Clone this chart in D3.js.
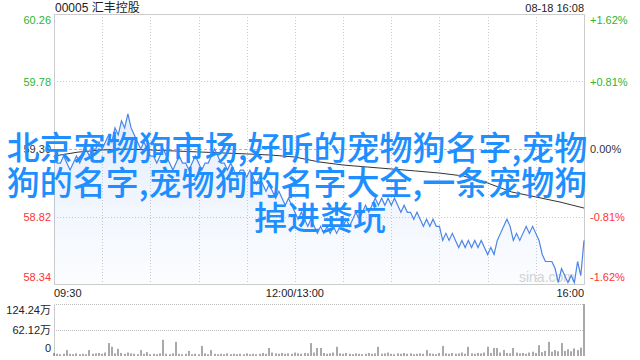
<!DOCTYPE html>
<html>
<head>
<meta charset="utf-8">
<script src="https://cdn.jsdelivr.net/npm/d3@7"></script>
<style>
  body { margin: 0; background: #fff; }
  svg text { font-family: "Liberation Sans", "Noto Sans CJK SC", sans-serif; }
</style>
</head>
<body>
<svg id="chart" width="640" height="360"></svg>
<script>
// tick labels
var priceTicks = [60.26, 59.78, 59.30, 58.82, 58.34];
var pctTicks = ["+1.62%", "+0.81%", "0.00%", "-0.81%", "-1.62%"];
var timeTicks = [0, 150, 330];
var timeLabels = ["09:30", "12:00/13:00", "16:00"];
var volTicks = [124.24, 62.12, 0];
var volLabels = ["124.24万", "62.12万", "0"];
var prevClose = 59.30;

// price every 2 minutes of trading (166 points, 09:30 .. 16:00)
var price = [
  59.25,59.20,59.20,59.25,59.20,59.15,59.20,59.25,59.20,59.25,
  59.30,59.25,59.30,59.30,59.35,59.30,59.35,59.40,59.35,59.45,
  59.40,59.50,59.45,59.55,59.45,59.40,59.35,59.30,59.35,59.30,
  59.25,59.25,59.20,59.25,59.30,59.25,59.20,59.15,59.20,59.25,
  59.20,59.20,59.15,59.20,59.25,59.20,59.15,59.20,59.20,59.25,
  59.30,59.25,59.20,59.20,59.15,59.20,59.15,59.10,59.15,59.15,
  59.10,59.15,59.10,59.05,59.10,59.05,59.00,59.05,59.00,58.95,
  59.00,58.95,58.90,58.95,58.90,58.85,58.80,58.85,58.80,58.75,
  58.80,58.75,58.70,58.75,58.70,58.75,58.70,58.75,58.70,58.75,
  58.75,58.80,58.75,58.80,58.85,58.80,58.85,58.90,58.85,58.90,
  58.95,58.90,58.95,58.90,58.95,58.90,58.95,58.90,58.85,58.90,
  58.85,58.85,58.80,58.85,58.80,58.75,58.80,58.75,58.80,58.75,
  58.75,58.65,58.70,58.65,58.70,58.65,58.60,58.65,58.60,58.65,
  58.60,58.65,58.60,58.65,58.60,58.55,58.60,58.55,58.65,58.70,
  58.75,58.80,58.75,58.65,58.70,58.65,58.70,58.75,58.70,58.75,
  58.70,58.65,58.55,58.50,58.50,58.50,58.45,58.35,58.45,58.40,
  58.35,58.40,58.35,58.50,58.40,58.65
];

// average price every 15 minutes
var avgMinutes = [0,15,30,45,60,75,90,105,120,135,150,165,180,195,210,225,240,255,270,285,300,315,330];
var avgPrice = [59.25,59.278,59.293,59.30,59.293,59.286,59.279,59.272,59.265,59.257,59.243,
  59.208,59.186,59.172,59.158,59.144,59.129,59.108,59.058,58.994,58.959,58.923,58.88];

// volume every 2 minutes, in 万 shares
var volume = [
  5,3,2,3,12,3,2,4,2,3,2,12,3,4,5,3,6,29,20,4,
  15,5,3,6,4,3,2,12,3,7,2,3,2,4,37,3,2,4,32,3,
  2,3,10,2,3,2,22,4,2,12,3,2,3,2,4,2,3,2,3,2,
  4,2,3,2,3,5,3,17,6,4,3,5,3,4,3,6,4,3,5,4,
  29,6,17,17,5,3,4,6,20,4,3,5,3,2,4,3,2,3,5,3,
  4,20,3,4,6,3,2,4,3,5,3,4,2,3,4,3,12,4,3,2,
  5,22,4,3,5,3,4,6,3,20,4,3,5,4,6,20,5,17,17,6,
  12,5,4,17,6,4,5,3,6,8,5,24,7,10,32,8,12,9,29,10,
  14,9,16,12,18,124.24
];

var svg = d3.select("#chart");
var plotL = 54, plotR = 584, plotT = 14, plotB = 284;
var volT = 304, volB = 355;

var x = d3.scaleLinear().domain([0, 330]).range([plotL, plotR]);
var y = d3.scaleLinear().domain([58.34, 60.26]).range([plotB, plotT]);
var yv = d3.scaleLinear().domain([0, 124.24]).range([volB, volT]);

function colorFor(v) {
  if (Math.abs(v - prevClose) < 1e-6) return "#333";
  return v > prevClose ? "#2fb52f" : "#f33";
}

// grid
svg.selectAll(".vgrid")
  .data(d3.range(30, 330, 30))
  .enter().append("line")
  .attr("x1", d => Math.round(x(d)) + 0.5).attr("x2", d => Math.round(x(d)) + 0.5)
  .attr("y1", plotT).attr("y2", plotB)
  .attr("stroke", "#ccc").attr("stroke-dasharray", "1,2");

svg.selectAll(".hgrid")
  .data([priceTicks[1], priceTicks[3]])
  .enter().append("line")
  .attr("x1", plotL).attr("x2", plotR)
  .attr("y1", d => Math.round(y(d)) + 0.5).attr("y2", d => Math.round(y(d)) + 0.5)
  .attr("stroke", "#ccc").attr("stroke-dasharray", "1,2");

// frame
svg.append("path")
  .attr("d", "M" + (plotL + 0.5) + "," + (plotT + 0.5) + "V" + (plotB + 0.5) + "H" + (plotR + 0.5) + "V" + (plotT + 0.5) + "Z")
  .attr("fill", "none").attr("stroke", "#ccc");

// watermark
svg.append("text").attr("x", 575).attr("y", 282).attr("text-anchor", "end")
  .attr("font-size", 14).attr("fill", "#d4d4d4").text("sina.com");

// fill under price
var grad = svg.append("defs").append("linearGradient")
  .attr("id", "pfill").attr("x1", 0).attr("y1", 0).attr("x2", 0).attr("y2", 1);
grad.append("stop").attr("offset", "0%").attr("stop-color", "#4a86e8").attr("stop-opacity", 0.14);
grad.append("stop").attr("offset", "100%").attr("stop-color", "#4a86e8").attr("stop-opacity", 0.02);

var area = d3.area()
  .x((d, i) => x(i * 2))
  .y0(plotB)
  .y1(d => y(d));
svg.append("path").datum(price).attr("d", area).attr("fill", "url(#pfill)");

// previous close line
svg.append("line")
  .attr("x1", plotL).attr("x2", plotR)
  .attr("y1", Math.round(y(prevClose)) + 0.5).attr("y2", Math.round(y(prevClose)) + 0.5)
  .attr("stroke", "#f4a460").attr("stroke-dasharray", "3,2");

// average line
svg.append("path")
  .datum(avgPrice)
  .attr("d", d3.line().x((d, i) => x(avgMinutes[i])).y(d => y(d)))
  .attr("fill", "none").attr("stroke", "#333").attr("stroke-width", 1);

// price line
svg.append("path")
  .datum(price)
  .attr("d", d3.line().x((d, i) => x(i * 2)).y(d => y(d)))
  .attr("fill", "none").attr("stroke", "#4a86e8").attr("stroke-width", 1.2);

// left price labels
var labelY = function(i, n, pos) {
  if (i === 0) return pos + 10;
  if (i === n - 1) return pos - 3;
  return pos + 4;
};
svg.selectAll(".plab")
  .data(priceTicks)
  .enter().append("text")
  .attr("x", 51).attr("y", (d, i) => labelY(i, priceTicks.length, y(d)))
  .attr("text-anchor", "end").attr("font-size", 11)
  .attr("fill", d => colorFor(d))
  .text(d => d3.format(".2f")(d));

svg.selectAll(".pctlab")
  .data(pctTicks)
  .enter().append("text")
  .attr("x", 590).attr("y", (d, i) => labelY(i, pctTicks.length, y(priceTicks[i])))
  .attr("font-size", 11)
  .attr("fill", (d, i) => colorFor(priceTicks[i]))
  .text(d => d);

// time labels
svg.selectAll(".tlab")
  .data(timeTicks)
  .enter().append("text")
  .attr("x", d => x(d)).attr("y", 297)
  .attr("text-anchor", (d, i) => i === 0 ? "start" : (i === timeTicks.length - 1 ? "end" : "middle"))
  .attr("font-size", 11).attr("fill", "#222")
  .text((d, i) => timeLabels[i]);

// header
svg.append("text").attr("x", 55).attr("y", 12).attr("font-size", 12).attr("fill", "#222")
  .text("00005 汇丰控股");
svg.append("text").attr("x", plotR).attr("y", 12).attr("text-anchor", "end")
  .attr("font-size", 11).attr("fill", "#222").text("08-18 16:08");

// volume panel
svg.selectAll(".vgridv")
  .data([volTicks[0], volTicks[1]])
  .enter().append("line")
  .attr("x1", plotL).attr("x2", plotR)
  .attr("y1", d => Math.round(yv(d)) + 0.5).attr("y2", d => Math.round(yv(d)) + 0.5)
  .attr("stroke", "#bbb").attr("stroke-dasharray", "1,1");
svg.append("line")
  .attr("x1", plotL + 0.5).attr("x2", plotL + 0.5).attr("y1", volT).attr("y2", volB + 1)
  .attr("stroke", "#ccc");

svg.selectAll(".vbar")
  .data(volume)
  .enter().append("rect")
  .attr("x", (d, i) => Math.round(x(i * 2)) - 0.5)
  .attr("width", 1)
  .attr("y", d => yv(d))
  .attr("height", d => volB - yv(d) + 1)
  .attr("fill", "#555");

svg.selectAll(".vlab")
  .data(volTicks)
  .enter().append("text")
  .attr("x", 51).attr("y", (d, i) => labelY(i, volTicks.length, yv(d)))
  .attr("text-anchor", "end").attr("font-size", 11).attr("fill", "#222")
  .text((d, i) => volLabels[i]);

// overlay title
var overlay = ["北京宠物狗市场,好听的宠物狗名字,宠物", "狗的名字,宠物狗的名字大全,一条宠物狗", "掉进粪坑"];
svg.selectAll(".big")
  .data(overlay)
  .enter().append("text")
  .attr("x", (d, i) => i < 2 ? 297 : 320)
  .attr("y", (d, i) => 160 + i * 35)
  .attr("text-anchor", "middle")
  .attr("font-size", 33)
  .attr("font-weight", 500)
  .style("font-family", "'Noto Sans CJK SC', sans-serif")
  .attr("fill", "#1e8fff")
  .text(d => d);
</script>
</body>
</html>
